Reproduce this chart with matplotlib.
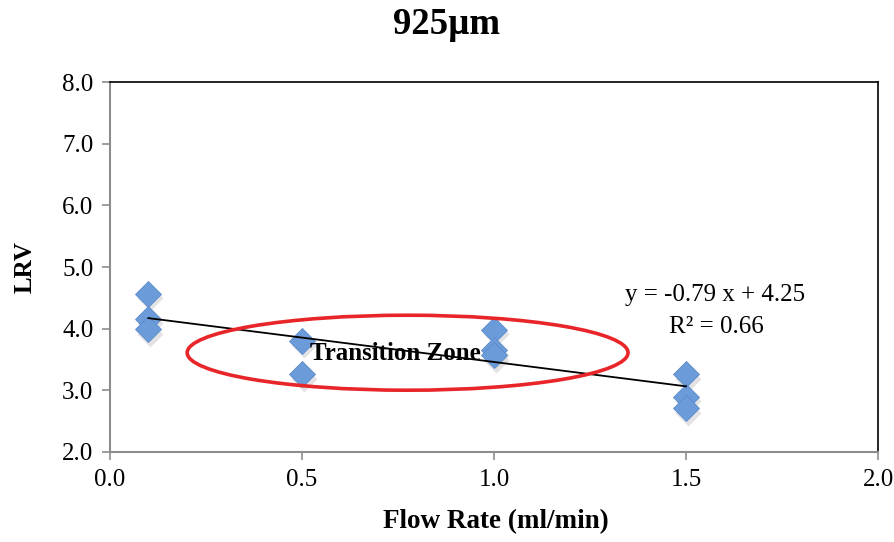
import numpy as np
import matplotlib.pyplot as plt
from matplotlib.patches import Ellipse

# data
flow_rate = [0.1, 0.1, 0.1, 0.5, 0.5, 1.0, 1.0, 1.0, 1.5, 1.5, 1.5]
lrv = [4.56, 4.16, 3.99, 3.80, 3.26, 3.98, 3.65, 3.57, 3.26, 2.89, 2.71]
x_ticks = [0.0, 0.5, 1.0, 1.5, 2.0]
y_ticks = [2.0, 3.0, 4.0, 5.0, 6.0, 7.0, 8.0]
slope, intercept, r2 = -0.79, 4.25, 0.66

plt.rcParams['font.family'] = ['Liberation Serif', 'DejaVu Serif']

fig = plt.figure(figsize=(8.94, 5.42), dpi=100)
# axes box: 110..878 px wide, 82..452 px high
ax = fig.add_axes([110 / 894, 1 - 452 / 542, 768 / 894, 370 / 542])

x = np.array(flow_rate)
y = np.array(lrv)
# soft shadow under the diamonds
ax.plot(x + 0.004, y - 0.07, 'D', ms=13, color='#777777', alpha=0.2, mec='none', zorder=2)
ax.plot(x, y, 'D', ms=13, color='#6b9bd8', mec='#5b8bcb', mew=0.6, zorder=3)

xl = np.array([x.min(), x.max()])
ax.plot(xl, slope * xl + intercept, color='black', lw=1.3, zorder=4)

ell = Ellipse((0.775, 3.61), 1.148, 1.216, fill=False, ec='#e8262a', lw=2.6, zorder=5)
ax.add_patch(ell)
ax.text(0.742, 3.60, 'Transition Zone', fontsize=18, fontweight='bold', ha='center', va='center', zorder=6)

ax.text(1.575, 4.55, f'y = {slope} x + {intercept}', fontsize=18, ha='center', va='center')
ax.text(1.58, 4.03, f'R² = {r2}', fontsize=18, ha='center', va='center')

ax.set_xlim(0, 2)
ax.set_ylim(2, 8)
ax.set_xticks(x_ticks)
ax.set_yticks(y_ticks)
ax.set_xticklabels([f'{v:.1f}' for v in x_ticks], fontsize=18)
ax.set_yticklabels([f'{v:.1f}' for v in y_ticks], fontsize=18)
ax.tick_params(direction='out', length=6, width=1.2, color='#8c8c8c', pad=6)
for side in ['left', 'bottom']:
    ax.spines[side].set_color('#8c8c8c')
    ax.spines[side].set_linewidth(1.5)
for side in ['top', 'right']:
    ax.spines[side].set_color('black')
    ax.spines[side].set_linewidth(1.2)

fig.text(496 / 894, 1 - 522 / 542, 'Flow Rate (ml/min)', fontsize=19.5, fontweight='bold', ha='center', va='center')
fig.text(25 / 894, 1 - 267 / 542, 'LRV', fontsize=18, fontweight='bold', ha='center', va='center', rotation=90)
fig.text(447 / 894, 1 - 24 / 542, '925µm', fontsize=26.5, fontweight='bold', ha='center', va='center')

fig.savefig('out.png', dpi=100)
